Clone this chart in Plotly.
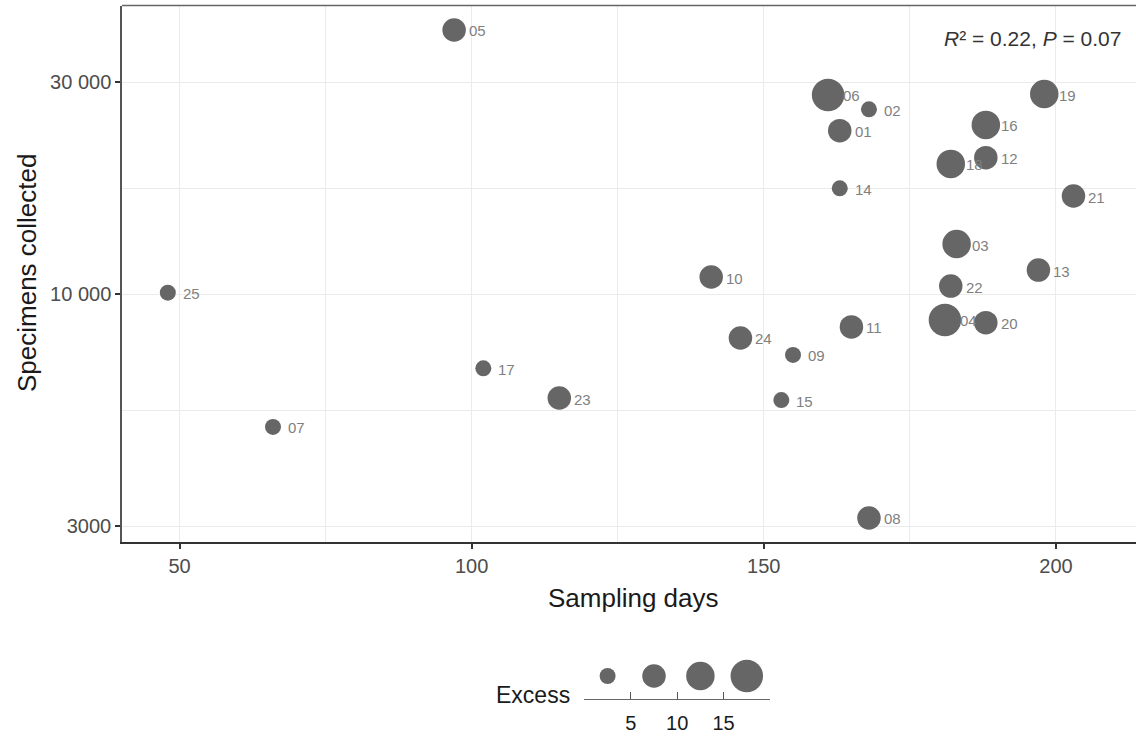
import numpy as np
import plotly.graph_objects as go

# ---------------- data ----------------
sites = ["01", "02", "03", "04", "05", "06", "07", "08", "09", "10", "11", "12", "13",
         "14", "15", "16", "17", "18", "19", "20", "21", "22", "23", "24", "25"]
sampling_days = [163, 168, 183, 181, 97, 161, 66, 168, 155, 141, 165, 188, 197,
                 163, 153, 188, 102, 182, 198, 188, 203, 182, 115, 146, 48]
specimens = [23330, 26060, 12960, 8740, 39330, 28070, 5020, 3130, 7290, 10920, 8430, 20280, 11320,
             17300, 5770, 24030, 6800, 19630, 28210, 8620, 16620, 10420, 5830, 7960, 10070]
excess = [8, 3, 13, 17, 9, 18, 3, 7, 2, 8, 7, 8, 9,
          3, 4, 13, 3, 12, 14, 8, 9, 7, 8, 7, 3]

size_breaks = [5, 10, 15]
legend_bin_centres = [2.5, 7.5, 12.5, 17.5]
legend_ticks = [5, 10, 15]

y_tickvals = [3000, 10000, 30000]
y_ticktext = ["3000", "10 000", "30 000"]
x_tickvals = [50, 100, 150, 200]

# ---------------- styling ----------------
BIN_DIAMETERS = [16, 23.5, 28.5, 32.5]
PT = "#666666"
GRID = "#ebebeb"
FONT = "Liberation Sans, Arial, sans-serif"
W, H = 1136, 740
L = 122


def px_x(p):
    return (p - L) / (W - L)


def px_y(p):
    return 1 - p / H


def size_of(e):
    return BIN_DIAMETERS[int(np.digitize(e, size_breaks))]


sizes = [size_of(e) for e in excess]
legend_sizes = [size_of(e) for e in legend_bin_centres]

fig = go.Figure()
fig.add_trace(go.Scatter(
    x=sampling_days, y=specimens, mode="markers",
    marker=dict(size=sizes, color=PT, line=dict(width=0), opacity=1),
    xaxis="x", yaxis="y", hoverinfo="skip", showlegend=False))

fig.add_trace(go.Scatter(
    x=legend_bin_centres, y=[0.526] * len(legend_bin_centres), mode="markers",
    marker=dict(size=legend_sizes, color=PT, line=dict(width=0), opacity=1),
    xaxis="x2", yaxis="y2", hoverinfo="skip", showlegend=False))

annotations = []
for s, d, v in zip(sites, sampling_days, specimens):
    annotations.append(dict(
        x=d, y=np.log10(v), xref="x", yref="y", text=s, showarrow=False,
        xanchor="left", yanchor="middle", xshift=13, yshift=-1,
        font=dict(family=FONT, size=15, color="#7f7f7f")))

annotations += [
    dict(x=px_x(633), y=px_y(598), xref="paper", yref="paper", text="Sampling days",
         showarrow=False, xanchor="center", yanchor="middle",
         font=dict(family=FONT, size=26, color="#1a1a1a")),
    dict(x=px_x(27), y=px_y(273), xref="paper", yref="paper", text="Specimens collected",
         showarrow=False, xanchor="center", yanchor="middle", textangle=-90,
         font=dict(family=FONT, size=26, color="#1a1a1a")),
    dict(x=px_x(572), y=px_y(695), xref="paper", yref="paper", text="Excess",
         showarrow=False, xanchor="right", yanchor="middle",
         font=dict(family=FONT, size=23, color="#1a1a1a")),
    dict(x=px_x(1123), y=px_y(38), xref="paper", yref="paper",
         text="<i>R</i>² = 0.22, <i>P</i> = 0.07",
         showarrow=False, xanchor="right", yanchor="middle",
         font=dict(family=FONT, size=21, color="#333333")),
]

fig.update_layout(
    width=W, height=H,
    margin=dict(l=L, r=0, t=0, b=0, pad=0),
    paper_bgcolor="white", plot_bgcolor="white",
    font=dict(family=FONT),
    showlegend=False,
    annotations=annotations,
    shapes=[dict(type="line", xref="paper", yref="paper", x0=0, x1=1,
                 y0=px_y(5.5), y1=px_y(5.5), line=dict(color="#666666", width=1.5))],
    xaxis=dict(
        domain=[0, 1], range=[40.16, 213.7], anchor="y",
        tickmode="array", tickvals=x_tickvals,
        ticks="outside", ticklen=5, tickwidth=1.5, tickcolor="#333333",
        showline=True, linecolor="#333333", linewidth=1.8, mirror=False,
        showgrid=True, gridcolor=GRID, gridwidth=1.3, zeroline=False,
        minor=dict(tickvals=[75, 125, 175], showgrid=True, gridcolor=GRID, gridwidth=1, ticks=""),
        tickfont=dict(family=FONT, size=20, color="#4d4d4d"),
    ),
    yaxis=dict(
        type="log", domain=[px_y(541.7), px_y(5.5)], range=[3.4421, 4.6498], anchor="x",
        tickmode="array", tickvals=y_tickvals, ticktext=y_ticktext,
        ticks="outside", ticklen=5, tickwidth=1.5, tickcolor="#333333",
        showline=True, linecolor="#555555", linewidth=1.5, mirror=False,
        showgrid=True, gridcolor=GRID, gridwidth=1.3, zeroline=False,
        minor=dict(tickvals=[5477, 17321], showgrid=True, gridcolor=GRID, gridwidth=1, ticks=""),
        tickfont=dict(family=FONT, size=20, color="#4d4d4d"),
    ),
    xaxis2=dict(
        domain=[px_x(584.4), px_x(770)], range=[0, 20], anchor="y2",
        tickmode="array", tickvals=legend_ticks,
        ticks="inside", ticklen=7, tickwidth=1.2, tickcolor="#555555",
        showline=True, linecolor="#666666", linewidth=1.2,
        showgrid=False, zeroline=False, ticklabelstandoff=6,
        tickfont=dict(family=FONT, size=20, color="#1a1a1a"),
    ),
    yaxis2=dict(
        domain=[px_y(699.3), px_y(655)], range=[0, 1], anchor="x2", visible=False,
    ),
)

fig.write_html("out.html")
